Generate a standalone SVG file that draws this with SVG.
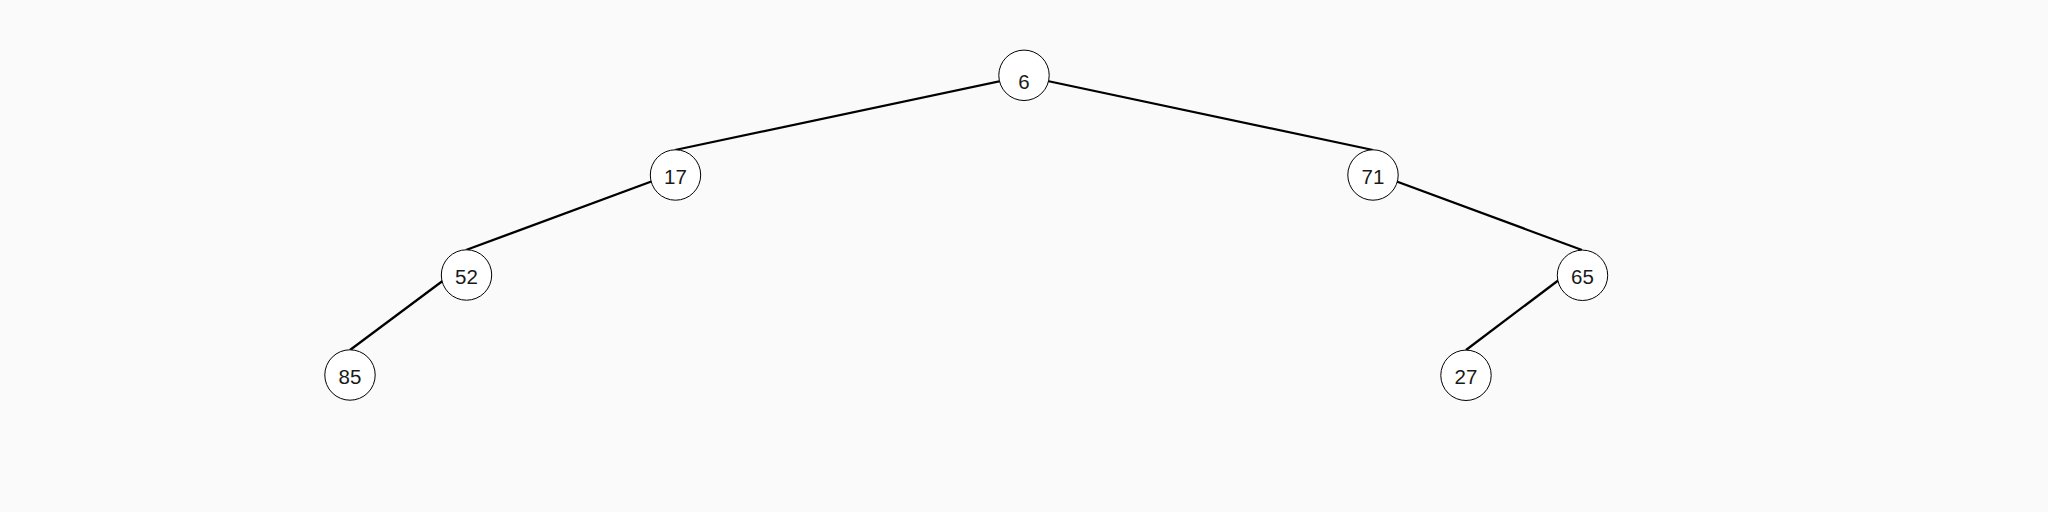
<svg xmlns="http://www.w3.org/2000/svg" width="2048" height="512" viewBox="0 0 2048 512">
<style>
.n circle{fill:#ffffff;stroke:#000000;stroke-width:1}
.n text{font-family:"Liberation Sans",Arial,sans-serif;font-size:20.5px;fill:#1a1a1a;text-anchor:middle;dominant-baseline:central}
.e line{stroke:#000000;stroke-width:2.2}
</style>
<rect width="2048" height="512" fill="#fafafa"/>
<g id="edges" class="e">
<line x1="1024" y1="76" x2="675" y2="150"/>
<line x1="1024" y1="76" x2="1373" y2="150"/>
<line x1="675" y1="172.7" x2="466" y2="250"/>
<line x1="466" y1="263.5" x2="350" y2="350"/>
<line x1="1373" y1="172.7" x2="1582" y2="250"/>
<line x1="1582" y1="262.5" x2="1466" y2="350"/>
</g>
<g id="n6" class="n"><circle cx="1024" cy="75.3" r="25.2"/><text x="1024" y="81">6</text></g>
<g id="n17" class="n"><circle cx="675.5" cy="175" r="25.2"/><text x="675.5" y="176">17</text></g>
<g id="n71" class="n"><circle cx="1373" cy="175" r="25.2"/><text x="1373" y="176">71</text></g>
<g id="n52" class="n"><circle cx="466.5" cy="275" r="25.2"/><text x="466.5" y="276">52</text></g>
<g id="n65" class="n"><circle cx="1582.5" cy="275.3" r="25.2"/><text x="1582.5" y="276">65</text></g>
<g id="n85" class="n"><circle cx="350" cy="375" r="25.2"/><text x="350" y="376">85</text></g>
<g id="n27" class="n"><circle cx="1466" cy="375.3" r="25.2"/><text x="1466" y="376">27</text></g>
</svg>
